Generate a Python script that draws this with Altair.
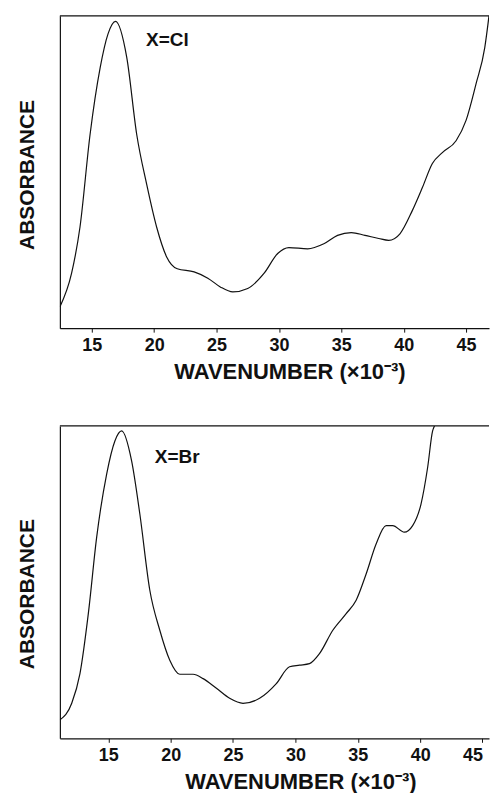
import altair as alt
import pandas as pd

# ---- data ----
cl_wavenumber = [12.44, 13.38, 14.05, 14.86, 15.67, 16.3, 16.9, 17.8, 18.6, 19.4, 20.2, 21.0,
                 21.85, 23.2, 24.3, 25.3, 26.3, 27.5, 28.8, 29.9, 30.8, 32.3, 33.6, 34.7,
                 35.8, 36.9, 38.0, 38.8, 39.7, 40.7, 41.5, 42.3, 43.1, 44.2, 45.0, 45.8,
                 46.5, 46.84]
cl_absorbance = [0.068, 0.176, 0.323, 0.62, 0.834, 0.942, 0.982, 0.867, 0.62, 0.46, 0.323, 0.228,
                 0.19, 0.18, 0.16, 0.132, 0.116, 0.127, 0.175, 0.239, 0.258, 0.254, 0.27, 0.297,
                 0.306, 0.297, 0.287, 0.281, 0.302, 0.377, 0.45, 0.527, 0.562, 0.6, 0.665, 0.782,
                 0.898, 1.0]

br_wavenumber = [11.13, 12.07, 12.73, 13.4, 14.07, 14.87, 15.53, 16.07, 16.87, 17.53, 18.33,
                 19.13, 19.93, 20.73, 21.8, 22.6, 23.67, 24.73, 25.8, 27.13, 28.47, 29.53,
                 30.33, 31.13, 31.93, 33.0, 34.07, 34.87, 35.67, 36.47, 37.27, 37.8, 38.73,
                 39.4, 40.07, 40.6, 41.0, 41.15]
br_absorbance = [0.059, 0.112, 0.207, 0.399, 0.644, 0.846, 0.952, 0.984, 0.888, 0.718, 0.474,
                 0.346, 0.25, 0.205, 0.205, 0.191, 0.16, 0.128, 0.112, 0.128, 0.175, 0.229,
                 0.234, 0.239, 0.271, 0.346, 0.399, 0.442, 0.526, 0.622, 0.681, 0.681, 0.66,
                 0.681, 0.75, 0.867, 0.984, 1.0]

tick_values = [15, 20, 25, 30, 35, 40, 45]
cl_domain = [12.44, 46.84]
br_domain = [11.12, 45.52]
cl_label = "X=Cl"
br_label = "X=Br"
x_title = "WAVENUMBER (×10⁻³)"
y_title = "ABSORBANCE"

FONT = "Liberation Sans"
INK = "#111111"


def panel(xs, ys, xdom, label, lx, ly, title_x, title_y, flush):
    df = pd.DataFrame({"w": xs, "a": ys})
    x = alt.X(
        "w:Q",
        scale=alt.Scale(domain=xdom, nice=False, zero=False),
        axis=alt.Axis(
            values=tick_values, title=x_title, grid=False,
            tickSize=4, labelPadding=4, titlePadding=7,
            domainColor=INK, tickColor=INK, domainWidth=1.2,
            labelFont=FONT, labelFontSize=18, labelFontWeight="bold", labelColor=INK,
            titleFont=FONT, titleFontSize=22, titleFontWeight="bold", titleColor=INK,
            titleX=title_x, titleAlign="center", labelOverlap=False,
            labelFlush=flush,
        ),
    )
    y = alt.Y(
        "a:Q",
        scale=alt.Scale(domain=[0, 1], nice=False, zero=False),
        axis=alt.Axis(
            title=y_title, labels=False, ticks=False, grid=False,
            domainColor=INK, domainWidth=1.2, titlePadding=22,
            titleFont=FONT, titleFontSize=21, titleFontWeight="bold", titleColor=INK,
            titleY=title_y,
        ),
    )
    line = alt.Chart(df).mark_line(
        interpolate="monotone", color=INK, strokeWidth=1.2, clip=True
    ).encode(x=x, y=y)
    border = alt.Chart(pd.DataFrame({"a": [1.0]})).mark_rule(
        color=INK, strokeWidth=1.2
    ).encode(y="a:Q")
    text = alt.Chart(pd.DataFrame({"t": [label]})).mark_text(
        align="left", baseline="alphabetic", font=FONT, fontSize=19,
        fontWeight="bold", color=INK
    ).encode(x=alt.datum(lx), y=alt.datum(ly), text="t:N")
    return alt.layer(line, border, text).properties(width=430, height=313)


top = panel(cl_wavenumber, cl_absorbance, cl_domain, cl_label, 19.35, 0.904, 230, 159, 0)
bottom = panel(br_wavenumber, br_absorbance, br_domain, br_label, 18.73, 0.88, 241, 168, 12)

chart = alt.vconcat(top, bottom, spacing=43).properties(
    padding={"left": 17, "top": 14, "right": 0, "bottom": 0},
    background="white",
).configure_view(strokeWidth=0)

chart.save("out.html", embed_options={"renderer": "svg", "actions": False})
